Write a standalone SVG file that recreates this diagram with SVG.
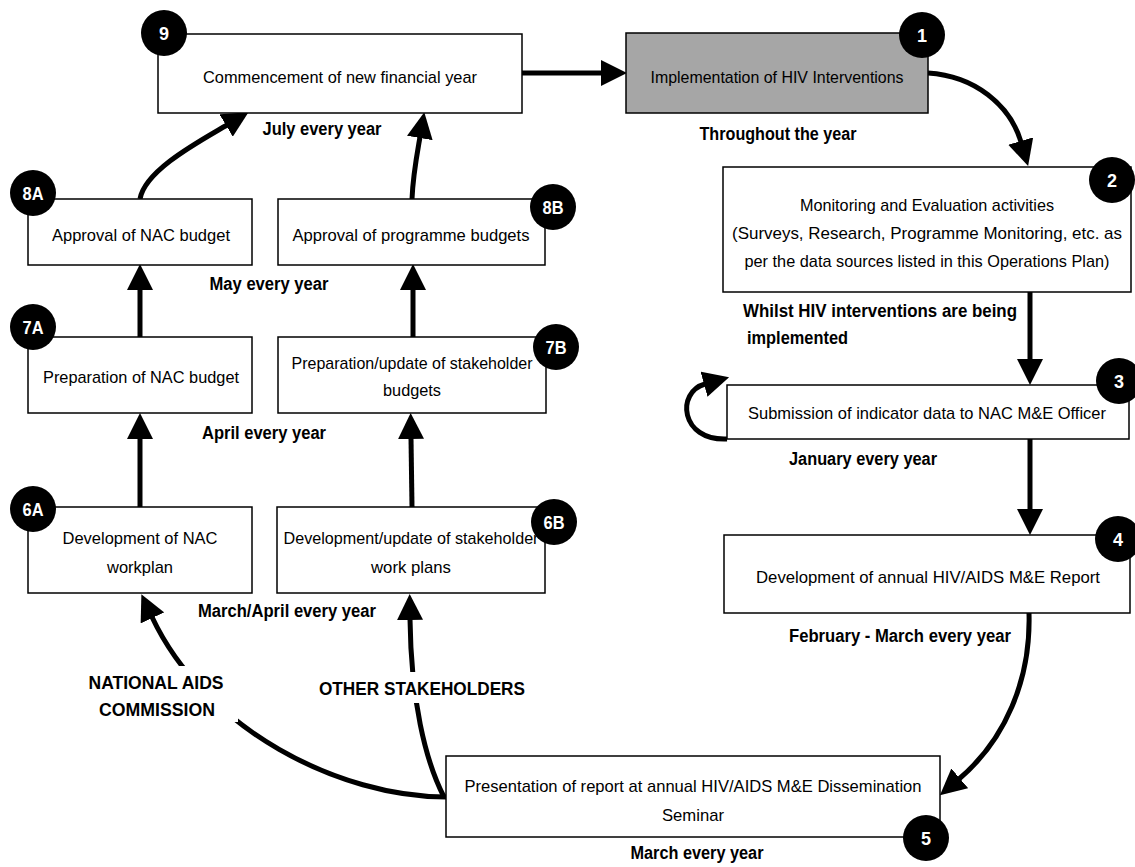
<svg xmlns="http://www.w3.org/2000/svg" width="1135" height="867" viewBox="0 0 1135 867">
<defs>
<style>
.box{fill:#fff;stroke:#000;stroke-width:1.5}
.gray{fill:#a6a6a6}
.t{font-family:"Liberation Sans Narrow","Liberation Sans",Arial,sans-serif;font-size:17px;fill:#000;text-anchor:middle}
.b{font-weight:bold;font-size:18px}
.s{text-anchor:start}
.bd{fill:#000}
.n{font-family:"Liberation Sans Narrow","Liberation Sans",Arial,sans-serif;font-size:18px;font-weight:bold;fill:#fff;text-anchor:middle}
.c{fill:none;stroke:#000;stroke-width:5}
.mask{fill:#fff}
</style>
<marker id="ah" markerUnits="userSpaceOnUse" markerWidth="26" markerHeight="26" viewBox="0 0 26 26" refX="1" refY="13" orient="auto"><path d="M0,0 L26,13 L0,26 z" fill="#000"/></marker>
</defs>
<rect width="1135" height="867" fill="#fff"/>

<g id="connectors">
<path class="c" d="M522,73 L602,73" marker-end="url(#ah)"/>
<path class="c" d="M928,73 C975,76 1010,105 1021,142" marker-end="url(#ah)"/>
<path class="c" d="M1030,292 L1030,360" marker-end="url(#ah)"/>
<path class="c" d="M727,439 C680,441 676,392 705,384" marker-end="url(#ah)"/>
<path class="c" d="M1030,439 L1030,510" marker-end="url(#ah)"/>
<path class="c" d="M1029,613 C1031,680 1005,740 959,779" marker-end="url(#ah)"/>
<path class="c" d="M446,797 C340,797 205,730 152,617" marker-end="url(#ah)"/>
<path class="c" d="M444,797 C425,760 411,700 410,619" marker-end="url(#ah)"/>
<path class="c" d="M140,507 L140,438" marker-end="url(#ah)"/>
<path class="c" d="M412,507 L411,438" marker-end="url(#ah)"/>
<path class="c" d="M140,337 L140,289" marker-end="url(#ah)"/>
<path class="c" d="M413,337 L413,289" marker-end="url(#ah)"/>
<path class="c" d="M140,199 C145,170 200,141 227,125" marker-end="url(#ah)"/>
<path class="c" d="M412,199 C413,175 416,160 420,137" marker-end="url(#ah)"/>
</g>

<g id="labels">
<rect class="mask" x="86" y="666" width="152" height="56"/>
<rect class="mask" x="316" y="672" width="212" height="31"/>
<text class="t b" x="322" y="134.5" textLength="119" lengthAdjust="spacingAndGlyphs">July every year</text>
<text class="t b" x="778" y="139.5" textLength="157" lengthAdjust="spacingAndGlyphs">Throughout the year</text>
<text class="t b s" x="743" y="316.5" textLength="274" lengthAdjust="spacingAndGlyphs">Whilst HIV interventions are being</text>
<text class="t b s" x="747" y="343.5" textLength="101" lengthAdjust="spacingAndGlyphs">implemented</text>
<text class="t b" x="863" y="464.5" textLength="148" lengthAdjust="spacingAndGlyphs">January every year</text>
<text class="t b" x="900" y="641.5" textLength="222" lengthAdjust="spacingAndGlyphs">February - March every year</text>
<text class="t b" x="697" y="858.5" textLength="133" lengthAdjust="spacingAndGlyphs">March every year</text>
<text class="t b" x="269" y="289.5" textLength="119" lengthAdjust="spacingAndGlyphs">May every year</text>
<text class="t b" x="264" y="438.5" textLength="124" lengthAdjust="spacingAndGlyphs">April every year</text>
<text class="t b" x="287" y="616.5" textLength="178" lengthAdjust="spacingAndGlyphs">March/April every year</text>
<text class="t b" x="156" y="688.5" textLength="135" lengthAdjust="spacingAndGlyphs">NATIONAL AIDS</text>
<text class="t b" x="157" y="715.5" textLength="116" lengthAdjust="spacingAndGlyphs">COMMISSION</text>
<text class="t b" x="422" y="694.5" textLength="206" lengthAdjust="spacingAndGlyphs">OTHER STAKEHOLDERS</text>
</g>

<g id="node9">
<rect class="box" x="158" y="34" width="364" height="79"/>
<text class="t" x="340" y="83" textLength="274" lengthAdjust="spacingAndGlyphs">Commencement of new financial year</text>
<circle class="bd" cx="164" cy="33" r="23"/><text class="n" x="164" y="39.5">9</text>
</g>
<g id="node1">
<rect class="box gray" x="626" y="33" width="302" height="80"/>
<text class="t" x="777" y="83" textLength="253" lengthAdjust="spacingAndGlyphs">Implementation of HIV Interventions</text>
<circle class="bd" cx="922" cy="35" r="23"/><text class="n" x="922" y="41.5">1</text>
</g>
<g id="node2">
<rect class="box" x="723" y="167" width="408" height="125"/>
<text class="t" x="927" y="211" textLength="254" lengthAdjust="spacingAndGlyphs">Monitoring and Evaluation activities</text>
<text class="t" x="927" y="239" textLength="390" lengthAdjust="spacingAndGlyphs">(Surveys, Research, Programme Monitoring, etc. as</text>
<text class="t" x="927" y="267" textLength="365" lengthAdjust="spacingAndGlyphs">per the data sources listed in this Operations Plan)</text>
<circle class="bd" cx="1112" cy="180" r="23"/><text class="n" x="1112" y="186.5">2</text>
</g>
<g id="node3">
<rect class="box" x="727" y="385" width="402" height="54"/>
<text class="t" x="927" y="419" textLength="358" lengthAdjust="spacingAndGlyphs">Submission of indicator data to NAC M&amp;E Officer</text>
<circle class="bd" cx="1119" cy="381" r="23"/><text class="n" x="1119" y="387.5">3</text>
</g>
<g id="node4">
<rect class="box" x="724" y="535" width="406" height="78"/>
<text class="t" x="928" y="583" textLength="344" lengthAdjust="spacingAndGlyphs">Development of annual HIV/AIDS M&amp;E Report</text>
<circle class="bd" cx="1118" cy="539" r="23"/><text class="n" x="1118" y="545.5">4</text>
</g>
<g id="node5">
<rect class="box" x="446" y="756" width="494" height="81"/>
<text class="t" x="693" y="792" textLength="457" lengthAdjust="spacingAndGlyphs">Presentation of report at annual HIV/AIDS M&amp;E Dissemination</text>
<text class="t" x="693" y="821" textLength="62" lengthAdjust="spacingAndGlyphs">Seminar</text>
<circle class="bd" cx="926" cy="838" r="23"/><text class="n" x="926" y="844.5">5</text>
</g>
<g id="node8A">
<rect class="box" x="28" y="199" width="224" height="66"/>
<text class="t" x="141" y="241" textLength="178" lengthAdjust="spacingAndGlyphs">Approval of NAC budget</text>
<circle class="bd" cx="33" cy="193" r="23"/><text class="n" x="33" y="199.5" textLength="21" lengthAdjust="spacingAndGlyphs">8A</text>
</g>
<g id="node8B">
<rect class="box" x="278" y="199" width="267" height="66"/>
<text class="t" x="411" y="241" textLength="237" lengthAdjust="spacingAndGlyphs">Approval of programme budgets</text>
<circle class="bd" cx="553" cy="207" r="23"/><text class="n" x="553" y="213.5" textLength="21" lengthAdjust="spacingAndGlyphs">8B</text>
</g>
<g id="node7A">
<rect class="box" x="28" y="337" width="224" height="76"/>
<text class="t" x="141" y="383" textLength="196" lengthAdjust="spacingAndGlyphs">Preparation of NAC budget</text>
<circle class="bd" cx="33" cy="327" r="23"/><text class="n" x="33" y="333.5" textLength="21" lengthAdjust="spacingAndGlyphs">7A</text>
</g>
<g id="node7B">
<rect class="box" x="278" y="337" width="268" height="76"/>
<text class="t" x="412" y="369" textLength="241" lengthAdjust="spacingAndGlyphs">Preparation/update of stakeholder</text>
<text class="t" x="412" y="396" textLength="58" lengthAdjust="spacingAndGlyphs">budgets</text>
<circle class="bd" cx="556" cy="347" r="23"/><text class="n" x="556" y="353.5" textLength="21" lengthAdjust="spacingAndGlyphs">7B</text>
</g>
<g id="node6A">
<rect class="box" x="28" y="507" width="224" height="86"/>
<text class="t" x="140" y="544" textLength="155" lengthAdjust="spacingAndGlyphs">Development of NAC</text>
<text class="t" x="140" y="573" textLength="66" lengthAdjust="spacingAndGlyphs">workplan</text>
<circle class="bd" cx="33" cy="509" r="23"/><text class="n" x="33" y="515.5" textLength="21" lengthAdjust="spacingAndGlyphs">6A</text>
</g>
<g id="node6B">
<rect class="box" x="277" y="507" width="268" height="86"/>
<text class="t" x="411" y="544" textLength="255" lengthAdjust="spacingAndGlyphs">Development/update of stakeholder</text>
<text class="t" x="411" y="573" textLength="80" lengthAdjust="spacingAndGlyphs">work plans</text>
<circle class="bd" cx="554" cy="522" r="23"/><text class="n" x="554" y="528.5" textLength="21" lengthAdjust="spacingAndGlyphs">6B</text>
</g>
</svg>
